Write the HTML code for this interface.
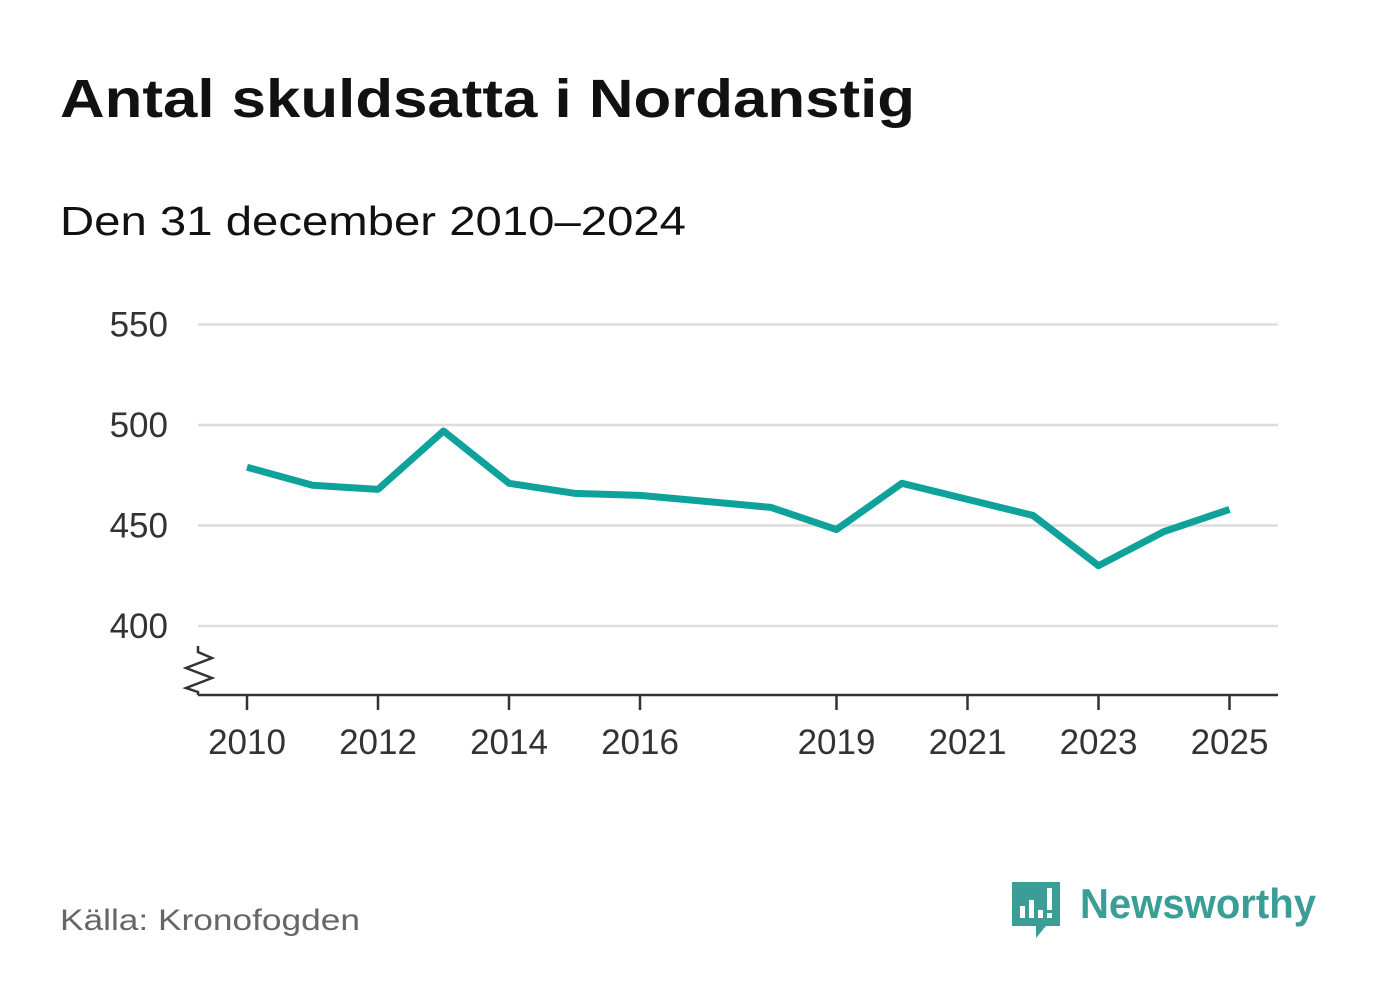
<!DOCTYPE html>
<html><head><meta charset="utf-8"><style>
body{margin:0;background:#fff;width:1382px;height:999px;overflow:hidden;font-family:"Liberation Sans",sans-serif}
</style></head><body>
<svg width="1382" height="999">
<text x="60" y="117" font-size="54" font-weight="bold" fill="#111" textLength="855" lengthAdjust="spacingAndGlyphs">Antal skuldsatta i Nordanstig</text>
<text x="60" y="235" font-size="41" fill="#111" textLength="626" lengthAdjust="spacingAndGlyphs">Den 31 december 2010–2024</text>
<g id="grid"></g><g id="xaxis"></g>
<path d="M198 646 L198 652 L212 658 L186 668 L212 678 L186 688 L198 692 L198 695" fill="none" stroke="#333" stroke-width="2.5"/>
<line x1="198" y1="695" x2="1278" y2="695" stroke="#333" stroke-width="2.5"/>
<path id="line" fill="none" stroke="#0ea29a" stroke-width="7" stroke-linejoin="round"/>
<text x="60" y="930" font-size="30" fill="#666" textLength="300" lengthAdjust="spacingAndGlyphs">Källa: Kronofogden</text>
<g>
<path d="M1012 882 H1060 V926 H1046 L1036 938 V926 H1012 Z" fill="#3a9e96"/>
<rect x="1020" y="906" width="5" height="12" fill="#fff"/><rect x="1029" y="900" width="5" height="18" fill="#fff"/><rect x="1038" y="910" width="5" height="8" fill="#fff"/><rect x="1047" y="888" width="5" height="22" fill="#fff"/><rect x="1047" y="913" width="5" height="5" fill="#fff"/>
<text x="1080" y="918" font-size="42" font-weight="bold" fill="#3a9e96" textLength="236" lengthAdjust="spacingAndGlyphs">Newsworthy</text>
</g>
</svg>
<script>
const years=[2010,2011,2012,2013,2014,2015,2016,2017,2018,2019,2020,2021,2022,2023,2024,2025];
const values=[479,470,468,497,471,466,465,462,459,448,471,463,455,430,447,458];
const yTicks=[400,450,500,550];
const xTicks=[2010,2012,2014,2016,2019,2021,2023,2025];
const xs=y=>247+(y-2010)*65.5;
const ys=v=>626-(v-400)*2.01;
const ns="http://www.w3.org/2000/svg";
const g=document.getElementById('grid'),xa=document.getElementById('xaxis');
yTicks.forEach(t=>{
 const l=document.createElementNS(ns,'line');
 
 
 l.setAttribute('x1',198);l.setAttribute('x2',1278);l.setAttribute('y1',ys(t));l.setAttribute('y2',ys(t));
 l.setAttribute('stroke','#ddd');l.setAttribute('stroke-width','2.5');g.appendChild(l);
 const tx=document.createElementNS(ns,'text');
 
 
 tx.setAttribute('x',168);tx.setAttribute('y',ys(t)+12);tx.setAttribute('text-anchor','end');
 tx.setAttribute('font-size','35');tx.setAttribute('fill','#333');tx.textContent=t;g.appendChild(tx);
});
xTicks.forEach(t=>{
 const l=document.createElementNS(ns,'line');
 
 
 l.setAttribute('x1',xs(t));l.setAttribute('x2',xs(t));l.setAttribute('y1',695);l.setAttribute('y2',710);
 l.setAttribute('stroke','#333');l.setAttribute('stroke-width','2.5');xa.appendChild(l);
 const tx=document.createElementNS(ns,'text');
 
 
 tx.setAttribute('x',xs(t));tx.setAttribute('y',754);tx.setAttribute('text-anchor','middle');
 tx.setAttribute('font-size','35');tx.setAttribute('fill','#333');tx.textContent=t;xa.appendChild(tx);
});
document.getElementById('line').setAttribute('d',years.map((y,i)=>(i?'L':'M')+xs(y)+' '+ys(values[i])).join(' '));
</script>
</body></html>
